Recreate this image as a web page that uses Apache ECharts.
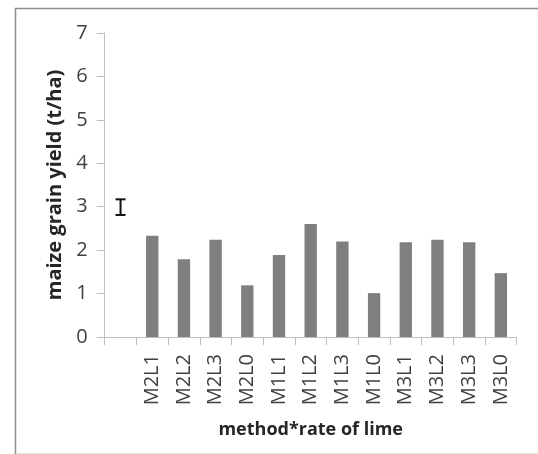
<!DOCTYPE html>
<html>
<head>
<meta charset="utf-8">
<script src="https://cdn.jsdelivr.net/npm/echarts@6/dist/echarts.min.js"></script>
<style>
html,body{margin:0;padding:0;background:#fff;}
#c{width:538px;height:454px;}
</style>
</head>
<body>
<div id="c"></div>
<script>
var categories = ["", "M2L1", "M2L2", "M2L3", "M2L0", "M1L1", "M1L2", "M1L3", "M1L0", "M3L1", "M3L2", "M3L3", "M3L0"];
var yieldValues = [null, 2.33, 1.79, 2.24, 1.19, 1.89, 2.60, 2.20, 1.01, 2.18, 2.24, 2.18, 1.47];
var lsdCategory = 0;
var lsdCenter = 2.99;
var lsdHalf = 0.18;
var yTicks = [0, 1, 2, 3, 4, 5, 6, 7];

var chart = echarts.init(document.getElementById('c'), null, {renderer: 'canvas'});
var font = '"Open Sans", sans-serif';
chart.setOption({
  animation: false,
  backgroundColor: '#fff',
  graphic: [{
    type: 'rect', left: 13, top: 6, z: -1,
    shape: {width: 540, height: 446},
    style: {fill: 'none', stroke: '#8c8c8c', lineWidth: 1.5}
  }],
  grid: {left: 104.7, right: 21.3, top: 33, bottom: 117, containLabel: false},
  xAxis: {
    type: 'category',
    data: categories,
    axisLine: {show: true, lineStyle: {color: '#bfbfbf', width: 1}},
    axisTick: {show: true, alignWithLabel: false, length: 8, lineStyle: {color: '#bfbfbf'}},
    axisLabel: {rotate: 90, margin: 17, fontSize: 20, color: '#404040', fontFamily: font, interval: 0},
    name: 'method*rate of lime',
    nameLocation: 'middle',
    nameGap: 84,
    nameTextStyle: {fontSize: 18, fontWeight: 'bold', color: '#262626', fontFamily: font}
  },
  yAxis: {
    type: 'value',
    min: yTicks[0], max: yTicks[yTicks.length - 1], interval: 1,
    axisLine: {show: true, lineStyle: {color: '#bfbfbf', width: 1}},
    axisTick: {show: true, length: 8, lineStyle: {color: '#bfbfbf'}},
    splitLine: {show: false},
    axisLabel: {fontSize: 20, color: '#404040', fontFamily: font, margin: 17},
    name: 'maize grain yield (t/ha)',
    nameLocation: 'middle',
    nameGap: 36,
    nameTextStyle: {fontSize: 20, fontWeight: 'bold', color: '#262626', fontFamily: font}
  },
  series: [{
    type: 'bar',
    data: yieldValues,
    barWidth: '39%',
    itemStyle: {color: '#7f7f7f'}
  }, {
    type: 'custom',
    data: [[lsdCategory, lsdCenter, lsdHalf]],
    renderItem: function (params, api) {
      var x = api.value(0), c = api.value(1), h = api.value(2);
      var top = api.coord([x, c + h]);
      var bot = api.coord([x, c - h]);
      var cap = 5;
      var st = {stroke: '#111', lineWidth: 2};
      return {type: 'group', children: [
        {type: 'line', shape: {x1: top[0], y1: top[1], x2: bot[0], y2: bot[1]}, style: st},
        {type: 'line', shape: {x1: top[0] - cap, y1: top[1], x2: top[0] + cap, y2: top[1]}, style: st},
        {type: 'line', shape: {x1: bot[0] - cap, y1: bot[1], x2: bot[0] + cap, y2: bot[1]}, style: st}
      ]};
    }
  }]
});
</script>
</body>
</html>
